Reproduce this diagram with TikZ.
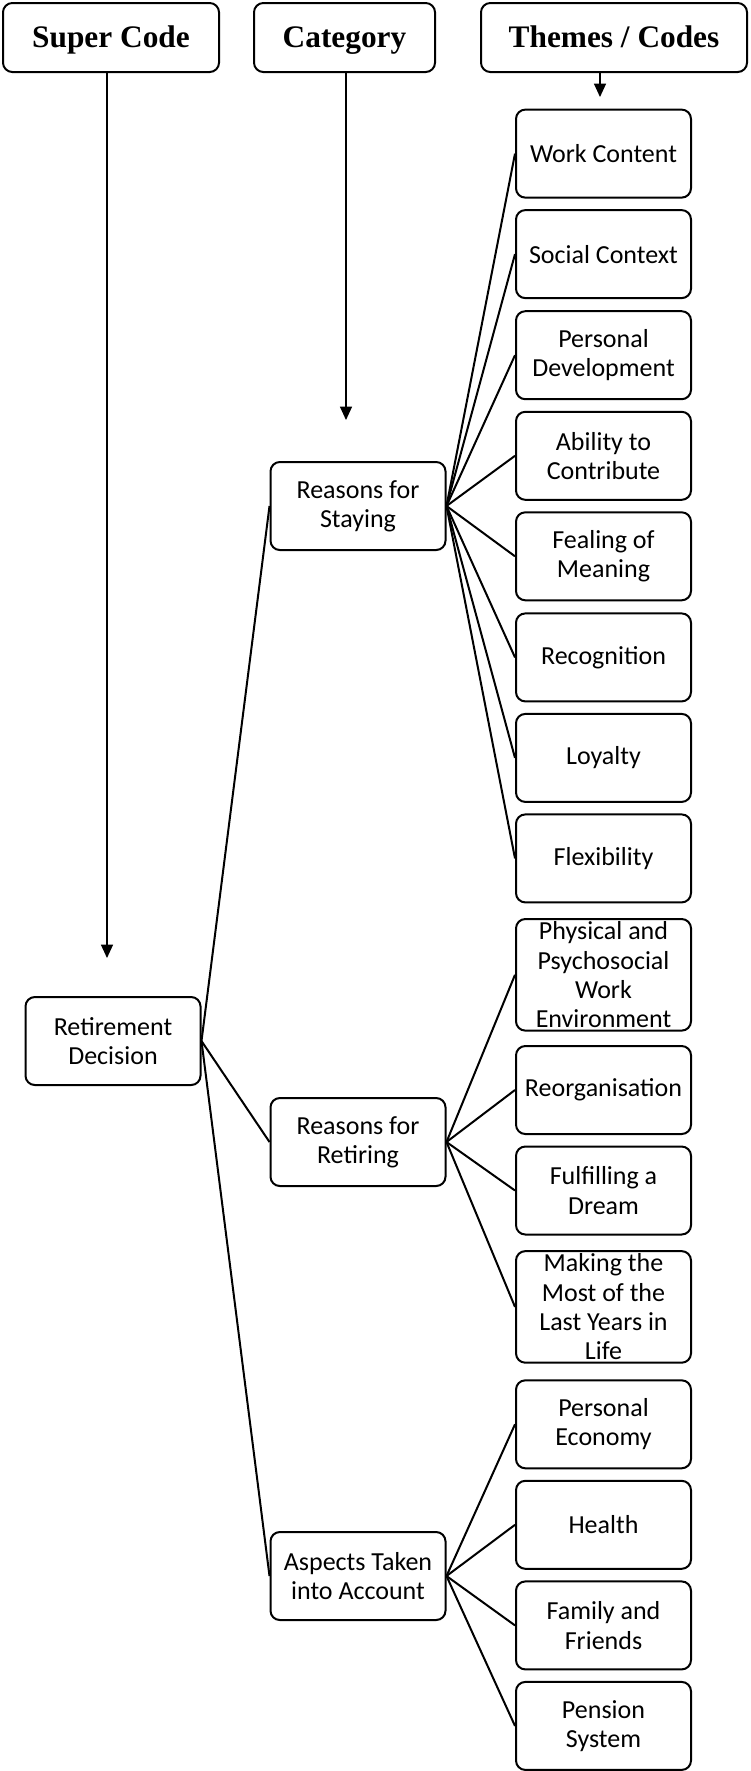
\documentclass[tikz,border=0pt]{standalone}
\usepackage{fontspec}
\setmainfont{Carlito}
\newfontfamily\headfont{Liberation Serif}
\usetikzlibrary{arrows.meta}

\begin{document}
\begin{tikzpicture}[x=0.75pt, y=-0.75pt,
    box/.style={draw, line width=1.5pt, rounded corners=7pt, align=center,
        minimum width=131.25pt, minimum height=66pt, inner xsep=1pt, inner ysep=2pt,
        font=\fontsize{19.5}{22}\selectfont},
    head/.style={box, font=\headfont\bfseries\fontsize{23.5}{26}\selectfont,
        minimum height=51.75pt, text height=15.5pt, text depth=0pt},
    link/.style={line width=1.5pt},
    down/.style={line width=0.9pt, -{Triangle[width=9pt, length=10pt]}}]
    \useasboundingbox (0,0) rectangle (750,1771);

    % column headers
    \node[head, minimum width=162pt] (super) at (111,37.5) {Super Code};
    \node[head, minimum width=135.75pt] (cat) at (344.5,37.5) {Category};
    \node[head, minimum width=199.5pt] (themes) at (614,37.5) {Themes / Codes};

    \coordinate (superend) at (107,958);
    \coordinate (catend) at (346,420);
    \coordinate (themesend) at (600,97);
    \draw[down] (superend |- super.south) -- (superend);
    \draw[down] (catend |- cat.south) -- (catend);
    \draw[down] (themesend |- themes.south) -- (themesend);

    % super code and categories
    \node[box] (decision) at (113,1041) {Retirement\\Decision};
    \node[box] (staying) at (358,506) {Reasons for\\Staying};
    \node[box] (retiring) at (358,1142) {Reasons for\\Retiring};
    \node[box] (aspects) at (358,1576) {Aspects Taken\\into Account};

    \foreach \cat in {staying,retiring,aspects}
        \draw[link] (decision.east) -- (\cat.west);

    % themes / codes
    \foreach \name/\y/\txt in {
        stay1/153.6/{Work Content}, stay2/254.1/{Social Context},
        stay3/355.2/{Personal\\Development}, stay4/455.8/{Ability to\\Contribute},
        stay5/556.3/{Fealing of\\Meaning}, stay6/657.4/{Recognition},
        stay7/757.9/{Loyalty}, stay8/858.4/{Flexibility},
        retire1/974.8/{Physical and\\Psychosocial\\Work\\Environment},
        retire2/1090/{Reorganisation}, retire3/1190.5/{Fulfilling a\\Dream},
        retire4/1306.9/{Making the\\Most of the\\Last Years in\\Life},
        aspect1/1424.3/{Personal\\Economy}, aspect2/1524.8/{Health},
        aspect3/1625.4/{Family and\\Friends}, aspect4/1725.9/{Pension\\System}}
        \node[box] (\name) at (603.5,\y) {\txt};

    \foreach \k in {1,...,8}
        \draw[link] (staying.east) -- (stay\k.west);
    \foreach \k in {1,...,4} {
        \draw[link] (retiring.east) -- (retire\k.west);
        \draw[link] (aspects.east) -- (aspect\k.west);
    }
\end{tikzpicture}
\end{document}
